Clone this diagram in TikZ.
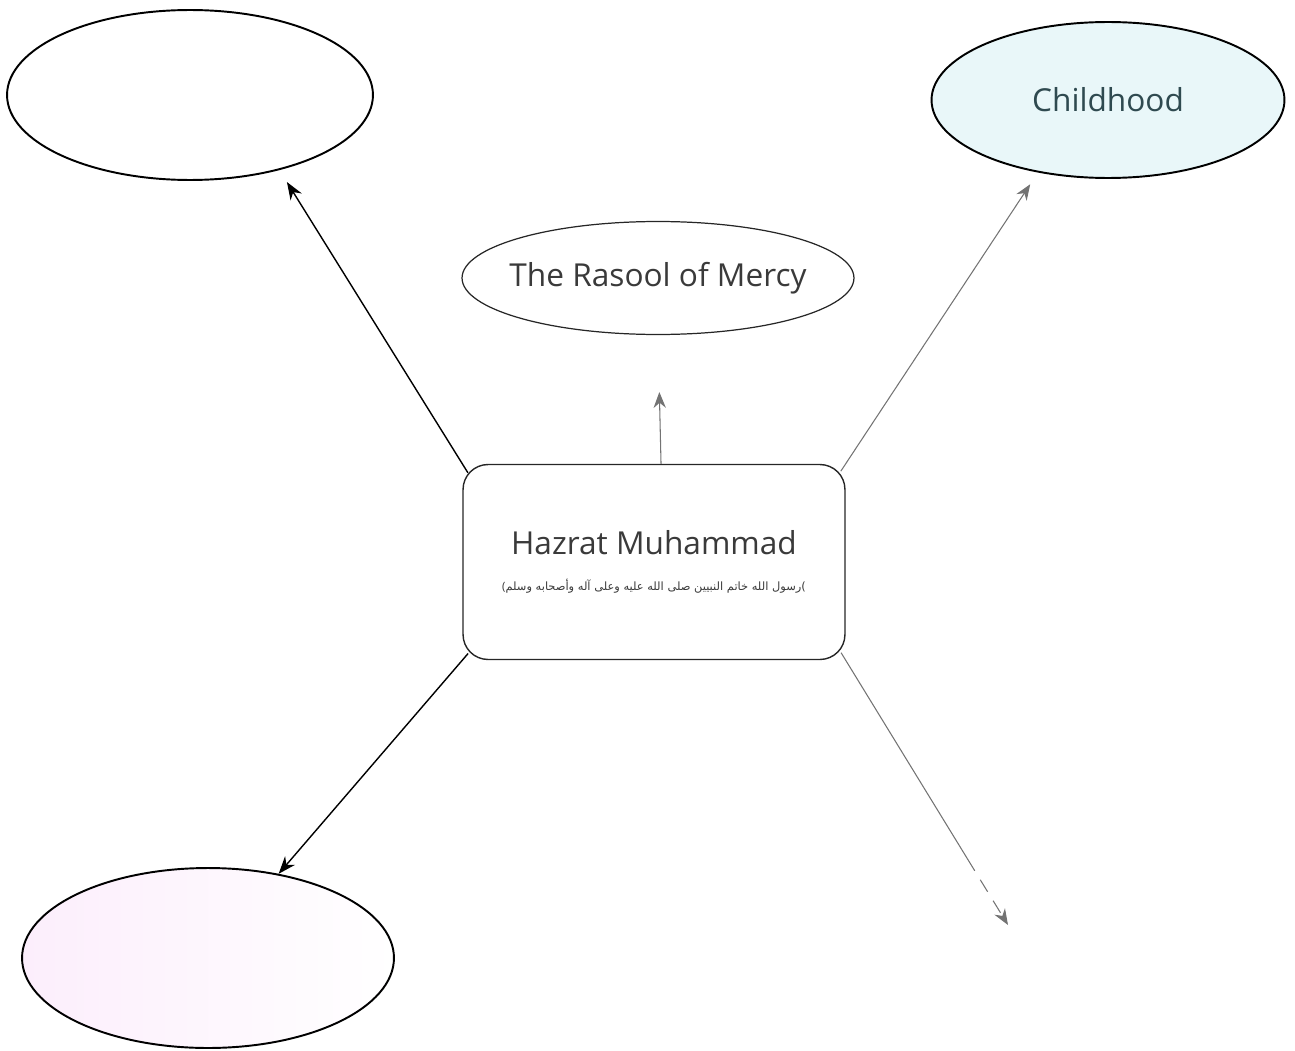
\documentclass[tikz,border=0pt]{standalone}
\usepackage{fontspec}
\setmainfont{Open Sans}
\newfontfamily\arabicfont[Script=Arabic]{DejaVu Sans}
\TeXXeTstate=1
\usepackage{tikz}
\usetikzlibrary{positioning,arrows.meta,shapes.geometric,calc}
\definecolor{childfill}{HTML}{E9F7F9}
\definecolor{childtext}{HTML}{2F4A50}
\definecolor{pinkfill}{HTML}{FCEEFC}
\definecolor{textgray}{HTML}{3A3A3A}

\begin{document}
\begin{tikzpicture}[x=0.02cm,y=-0.02cm,
  bubble/.style={ellipse,draw=black,line width=1.1pt,inner sep=0pt},
  hubbox/.style={rectangle,rounded corners=0.5cm,draw=black!85,line width=0.8pt,align=center,inner sep=0pt},
  arr/.style={line width=0.8pt,-{Stealth[length=10pt,width=7.5pt]}},
  grayarr/.style={arr,draw=black!55,line width=0.6pt,-{Stealth[length=9pt,width=7pt,fill=black!55]}}]
\useasboundingbox (0,0) rectangle (1295,1051);
% the five bubbles
\node[bubble,minimum width=7.32cm,minimum height=3.4cm] (past) at (190,95) {};
\node[bubble,fill=childfill,minimum width=7.06cm,minimum height=3.12cm,
  font=\fontsize{18}{22}\selectfont,text=childtext] (child) at (1108,100) {Childhood};
\node[bubble,draw=black!85,line width=0.7pt,inner xsep=-8pt,minimum width=7.84cm,minimum height=2.26cm,
  font=\fontsize{18}{20}\selectfont,text=textgray] (mercy) at (658,278) {The Rasool of Mercy};
\node[bubble,left color=pinkfill,right color=white,minimum width=7.44cm,minimum height=3.6cm] (later) at (208,958) {};
% centre box
\node[hubbox,minimum width=7.64cm,minimum height=3.9cm,text=textgray] (hub) at (654,562)
  {{\fontsize{18}{22}\selectfont Hazrat Muhammad}\\[8.5pt]
   {\fontsize{6.5}{8}\selectfont(\arabicfont\beginR رسول الله خاتم النبيين صلى الله عليه وعلى آله وأصحابه وسلم\endR)}};
% arrows
\draw[arr,shorten <=-6pt,shorten >=8pt] (hub.north west) -- (past.-40);
\draw[grayarr,shorten >=1.14cm] ([xshift=4]hub.north) -- (mercy.south);
\draw[grayarr,shorten <=-5pt,shorten >=8pt] (hub.north east) -- (child.-134);
\draw[arr,shorten <=-5pt] (hub.south west) -- (later.50);
\coordinate (nexttip) at (1008,925);
\coordinate (dashstart) at ($(hub.south east)!0.75!(nexttip)$);
\draw[draw=black!55,line width=0.6pt,shorten <=-5pt] (hub.south east) -- (dashstart);
\draw[grayarr,dash pattern=on 8pt off 6pt] (dashstart) -- (nexttip);
\end{tikzpicture}
\end{document}
